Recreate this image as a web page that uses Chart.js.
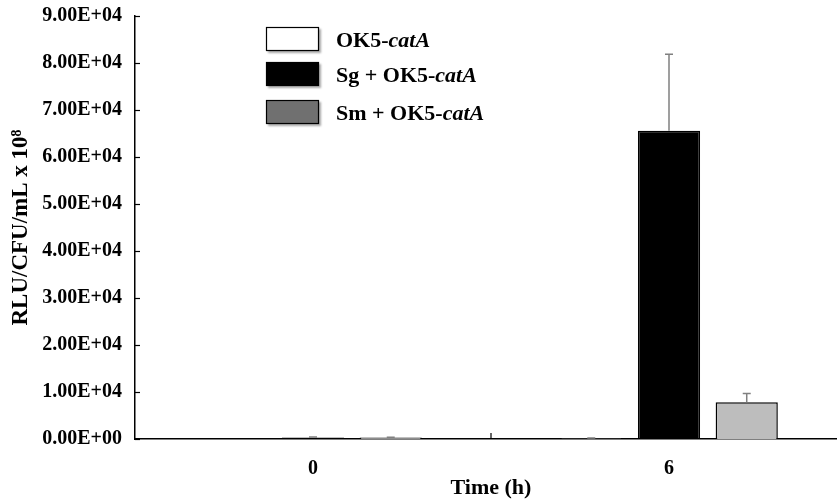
<!DOCTYPE html>
<html>
<head>
<meta charset="utf-8">
<script src="https://cdn.jsdelivr.net/npm/chart.js@4/dist/chart.umd.min.js"></script>
<style>
html,body{margin:0;padding:0;background:#fff;overflow:hidden;}
#wrap{width:847px;height:499px;}
</style>
</head>
<body>
<div id="wrap"><canvas id="c" width="847" height="499"></canvas></div>
<script>
const categories = ['0', '6'];
const seriesNames = ['OK5-catA', 'Sg + OK5-catA', 'Sm + OK5-catA'];
const ok5Values = [0, 80];
const sgValues = [300, 65600];
const smValues = [300, 7800];
const ok5Errors = [0, 150];
const sgErrors = [100, 16250];
const smErrors = [50, 1900];
const yTickLabels = ['0.00E+00','1.00E+04','2.00E+04','3.00E+04','4.00E+04','5.00E+04','6.00E+04','7.00E+04','8.00E+04','9.00E+04'];

const FONT = '"Liberation Serif", "Times New Roman", serif';
const barColors = ['#ffffff', '#000000', '#bdbdbd'];
const legendColors = ['#ffffff', '#000000', '#707070'];
const errorSets = [ok5Errors, sgErrors, smErrors];

const extras = {
  id: 'extras',
  afterDatasetsDraw(chart) {
    const ctx = chart.ctx;
    const ys = chart.scales.y;
    ctx.save();
    ctx.strokeStyle = '#808080';
    ctx.lineWidth = 1.5;
    chart.data.datasets.forEach((ds, di) => {
      const meta = chart.getDatasetMeta(di);
      meta.data.forEach((bar, i) => {
        const err = errorSets[di][i];
        if (!err) return;
        const v = ds.data[i];
        const yTop = ys.getPixelForValue(v + err);
        const yBase = ys.getPixelForValue(v);
        ctx.beginPath();
        ctx.moveTo(bar.x, yBase);
        ctx.lineTo(bar.x, yTop);
        ctx.moveTo(bar.x - 4, yTop);
        ctx.lineTo(bar.x + 4, yTop);
        ctx.stroke();
      });
    });
    ctx.restore();
  },
  afterDraw(chart) {
    const ctx = chart.ctx;
    const ys = chart.scales.y, xs = chart.scales.x;
    const area = chart.chartArea;
    ctx.save();
    ctx.strokeStyle = '#000';
    ctx.lineWidth = 1.2;
    ys.ticks.forEach((t) => {
      const y = Math.round(ys.getPixelForValue(t.value)) + 0.5;
      ctx.beginPath();
      ctx.moveTo(area.left, y);
      ctx.lineTo(area.left + 5, y);
      ctx.stroke();
    });
    for (let i = 0; i < categories.length - 1; i++) {
      const x = (xs.getPixelForValue(i) + xs.getPixelForValue(i + 1)) / 2;
      ctx.beginPath();
      ctx.moveTo(x, area.bottom);
      ctx.lineTo(x, area.bottom - 6);
      ctx.stroke();
    }
    const bx = 266, bw = 53, bh = 24;
    const boxYs = [27, 62, 100];
    seriesNames.forEach((name, i) => {
      const by = boxYs[i];
      ctx.save();
      ctx.shadowColor = 'rgba(0,0,0,0.35)';
      ctx.shadowOffsetX = 2;
      ctx.shadowOffsetY = 2;
      ctx.shadowBlur = 2;
      ctx.fillStyle = legendColors[i];
      ctx.fillRect(bx, by, bw, bh);
      ctx.restore();
      ctx.lineWidth = 1.2;
      ctx.strokeStyle = '#000';
      ctx.strokeRect(bx + 0.5, by + 0.5, bw - 1, bh - 1);
      const idx = name.indexOf('catA');
      const plain = name.slice(0, idx);
      const ital = name.slice(idx);
      ctx.fillStyle = '#000';
      ctx.textBaseline = 'alphabetic';
      ctx.textAlign = 'left';
      const ty = by + bh / 2 + 7.5;
      ctx.font = 'bold 22px ' + FONT;
      ctx.fillText(plain, 336, ty);
      const w = ctx.measureText(plain).width;
      ctx.font = 'italic bold 22px ' + FONT;
      ctx.fillText(ital, 336 + w, ty);
    });
    ctx.restore();
  }
};

new Chart(document.getElementById('c'), {
  type: 'bar',
  data: {
    labels: categories,
    datasets: [ok5Values, sgValues, smValues].map((d, i) => ({
      label: seriesNames[i],
      data: d,
      backgroundColor: barColors[i],
      borderColor: '#000',
      borderWidth: 1.5,
      categoryPercentage: 0.655,
      barPercentage: 0.8
    }))
  },
  options: {
    responsive: false,
    animation: false,
    layout: { padding: { top: 16, left: 0, right: 0, bottom: 0 } },
    plugins: { legend: { display: false }, tooltip: { enabled: false } },
    scales: {
      x: {
        grid: { display: false, drawTicks: false },
        border: { display: true, color: '#000', width: 1.5 },
        ticks: { color: '#000', font: { family: FONT, size: 20, weight: 'bold' }, padding: 18 },
        title: { display: true, text: 'Time (h)', color: '#000', font: { family: FONT, size: 22, weight: 'bold', lineHeight: 1 }, padding: 0 },
        afterFit(s) { s.height = 60; s.paddingLeft = 0; s.paddingRight = 0; }
      },
      y: {
        min: 0, max: 90000,
        grid: { display: false, drawTicks: false },
        border: { display: true, color: '#000', width: 1.5 },
        ticks: {
          stepSize: 10000,
          color: '#000',
          padding: 13,
          font: { family: FONT, size: 20, weight: 'bold' },
          callback: (v, i) => yTickLabels[i]
        },
        title: { display: true, text: 'RLU/CFU/mL x 10⁸', color: '#000', font: { family: FONT, size: 23, weight: 'bold', lineHeight: 1 }, padding: { top: 10, bottom: 0 } },
        afterFit(s) { s.width = 135; s.paddingTop = 0; s.paddingBottom = 0; }
      }
    }
  },
  plugins: [extras]
});
</script>
</body>
</html>
